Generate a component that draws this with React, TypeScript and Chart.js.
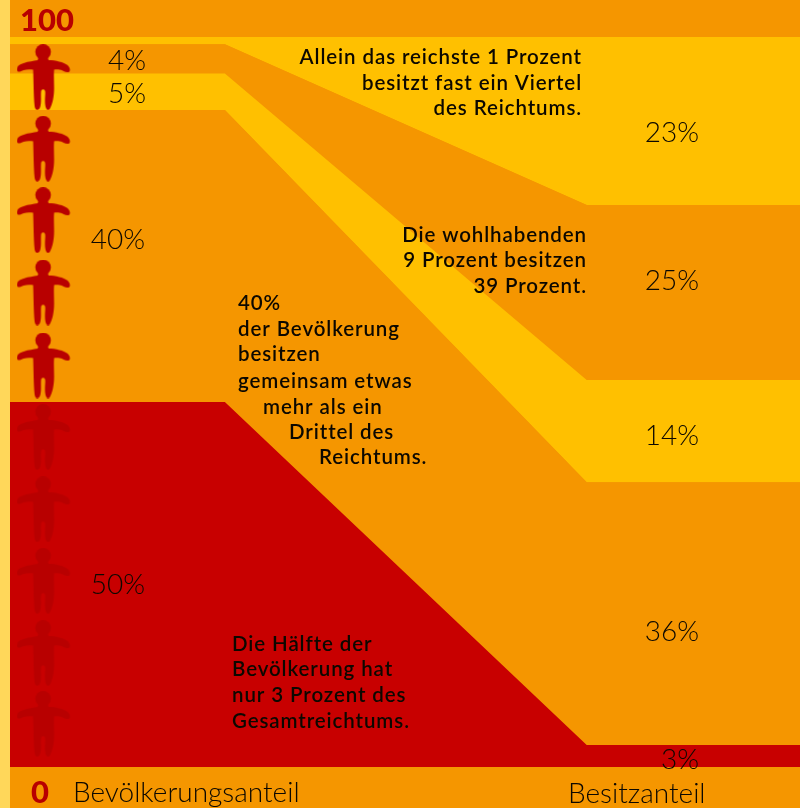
import React, { useEffect, useRef } from "react";
import { Chart, registerables } from "chart.js";

Chart.register(...registerables);

// Horizontal stops of the flow, percent of the width
const flowStops = [0, 27.2, 73, 100];
// Band thickness at each stop, bottom to top
const poorest = [50, 50, 3, 3];
const middle = [40, 40, 36, 36];
const upper = [5, 5, 14, 14];
const wealthy = [4, 4, 24, 24];
const richest = [1, 1, 23, 23];
// Figures standing along the left side
const figureShare = [4.25, 4.25, 4.25, 4.25, 4.25, 4.25, 4.25, 4.25, 4.25, 4.25];
const figureLevel = [94.5, 84.7, 74.9, 65, 55, 45.2, 35.3, 25.5, 15.6, 5.9];

const leftShares = ["4%", "5%", "40%", "50%"];
const rightShares = ["23%", "25%", "14%", "36%", "3%"];
const axisEnds = ["100", "0"];
const axisTitles = ["Bevölkerungsanteil", "Besitzanteil"];
const noteRichest = ["Allein das reichste 1 Prozent", "besitzt fast ein Viertel", "des Reichtums."];
const noteWealthy = ["Die wohlhabenden", "9 Prozent besitzen", "39 Prozent."];
const noteMiddle = ["40%", "der Bevölkerung", "besitzen", "gemeinsam etwas", "mehr als ein", "Drittel des", "Reichtums."];
const notePoorest = ["Die Hälfte der", "Bevölkerung hat", "nur 3 Prozent des", "Gesamtreichtums."];

const RED = "#c80000";
const ORANGE = "#f59600";
const YELLOW = "#ffc000";
const STRIPE = "#ffd75a";
const FIGURE = "#b80000";
const INK = "#0c0800";

const BIG = "300 28px Lato, sans-serif";
const NOTE = "600 20.5px Lato, sans-serif";
const END = "900 31px Lato, sans-serif";

function makeFigure(): HTMLCanvasElement {
  const c = document.createElement("canvas");
  c.width = 54;
  c.height = 66;
  const g = c.getContext("2d")!;
  g.fillStyle = FIGURE;
  g.beginPath();
  g.arc(26.5, 7.8, 7.8, 0, Math.PI * 2);
  g.fill();
  g.beginPath();
  g.moveTo(22, 13);
  g.lineTo(31, 13);
  g.lineTo(32, 16);
  g.bezierCurveTo(39, 16, 47, 18, 51, 21);
  g.bezierCurveTo(54, 24, 54, 28, 51, 28);
  g.bezierCurveTo(48, 28, 46, 26, 43, 25.5);
  g.bezierCurveTo(41, 25, 39, 25, 37.5, 25.5);
  g.bezierCurveTo(37, 32, 37.5, 38, 37.5, 44);
  g.bezierCurveTo(37.5, 52, 36, 60, 33, 65);
  g.bezierCurveTo(31, 67, 29, 65, 28.5, 60);
  g.bezierCurveTo(28, 54, 29, 50, 28.5, 47);
  g.bezierCurveTo(28, 44.5, 25, 44.5, 24.5, 47);
  g.bezierCurveTo(24, 52, 25, 58, 23.5, 63);
  g.bezierCurveTo(22, 67, 18.5, 66.5, 18, 62);
  g.bezierCurveTo(17, 52, 17, 38, 16.5, 25.5);
  g.bezierCurveTo(13, 25, 10, 25, 7, 26);
  g.bezierCurveTo(4, 27.5, 1, 28.5, 0.3, 26);
  g.bezierCurveTo(0, 22, 3, 20, 7, 19);
  g.bezierCurveTo(12, 17, 17, 17, 21, 16);
  g.closePath();
  g.fill();
  return c;
}

type Placed = { lines: string[]; font: string; color: string; align: CanvasTextAlign; xs: number[]; ys: number[]; spacing?: string };

const placed: Placed[] = [
  { lines: [axisEnds[0]], font: END, color: FIGURE, align: "left", xs: [20], ys: [21] },
  { lines: [axisEnds[1]], font: END, color: FIGURE, align: "center", xs: [40], ys: [793] },
  { lines: [axisTitles[0]], font: BIG, color: INK, align: "left", xs: [73], ys: [793] },
  { lines: [axisTitles[1]], font: BIG, color: INK, align: "left", xs: [568], ys: [794] },
  { lines: leftShares, font: BIG, color: INK, align: "center", xs: [127, 127, 118, 118], ys: [61, 94, 240, 585] },
  { lines: rightShares, font: BIG, color: INK, align: "center", xs: [672, 672, 672, 672, 680], ys: [133, 281, 436, 632, 760] },
  { lines: noteRichest, font: NOTE, color: INK, align: "right", xs: [582, 582, 582], ys: [57, 83, 108], spacing: "0.9px" },
  { lines: noteWealthy, font: NOTE, color: INK, align: "right", xs: [587, 587, 587], ys: [235, 260, 286], spacing: "0.9px" },
  { lines: noteMiddle, font: NOTE, color: INK, align: "left", xs: [238, 238, 238, 238, 263, 289, 319], ys: [303, 329, 354, 381, 407, 432, 457], spacing: "0.9px" },
  { lines: notePoorest, font: NOTE, color: INK, align: "left", xs: [232, 232, 232, 232], ys: [644, 669, 695, 721], spacing: "0.9px" },
];

const backdrop = {
  id: "backdrop",
  beforeDraw(chart: any) {
    const { ctx, width, height, scales } = chart;
    const start = scales.x.getPixelForValue(0);
    ctx.save();
    ctx.fillStyle = STRIPE;
    ctx.fillRect(0, 0, start, height);
    ctx.fillStyle = ORANGE;
    ctx.fillRect(start, 0, width - start, height);
    ctx.restore();
  },
};

const textLayer = {
  id: "textLayer",
  afterDraw(chart: any) {
    const { ctx } = chart;
    ctx.save();
    ctx.textBaseline = "middle";
    for (const p of placed) {
      ctx.font = p.font;
      ctx.fillStyle = p.color;
      ctx.textAlign = p.align;
      (ctx as any).letterSpacing = p.spacing ?? "0px";
      p.lines.forEach((t, i) => ctx.fillText(t, p.xs[i], p.ys[i]));
    }
    ctx.restore();
  },
};

function band(values: number[], color: string, fill: string | number) {
  return {
    data: flowStops.map((x, i) => ({ x, y: values[i] })),
    backgroundColor: color,
    borderWidth: 0,
    pointRadius: 0,
    tension: 0,
    fill,
    stack: "bands",
  };
}

export default function App() {
  const ref = useRef<HTMLCanvasElement>(null);
  useEffect(() => {
    const figure = makeFigure();
    const chart = new Chart(ref.current!, {
      type: "line",
      data: {
        datasets: [
          {
            data: figureLevel.map((y, i) => ({ x: figureShare[i], y })),
            showLine: false,
            pointStyle: figure,
            pointRadius: 27,
            stack: "people",
            fill: false,
          },
          band(poorest, RED, "origin"),
          band(middle, ORANGE, "-1"),
          band(upper, YELLOW, "-1"),
          band(wealthy, ORANGE, "-1"),
          band(richest, YELLOW, "-1"),
        ] as any,
      },
      options: {
        animation: false,
        responsive: false,
        layout: { padding: 0, autoPadding: false },
        plugins: { legend: { display: false }, tooltip: { enabled: false } },
        scales: {
          x: { type: "linear", display: false, min: -1.266, max: 100 },
          y: { type: "linear", display: false, stacked: true, min: -5.616, max: 105.07 },
        },
      },
      plugins: [backdrop, textLayer],
    });
    return () => chart.destroy();
  }, []);
  return (
    <div style={{ position: "absolute", left: 0, top: 0, width: 800, height: 808 }}>
      <canvas ref={ref} width={800} height={808} style={{ display: "block" }} />
    </div>
  );
}
